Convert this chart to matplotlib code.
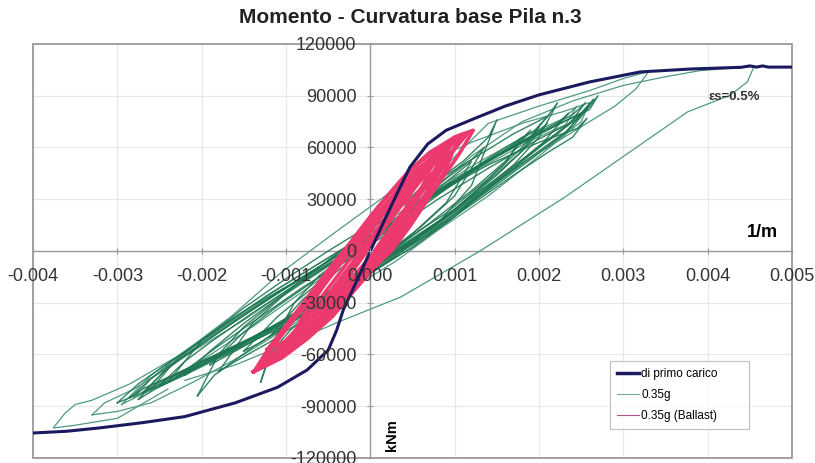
import numpy as np
import matplotlib.pyplot as plt
from matplotlib.lines import Line2D
from matplotlib.patches import Rectangle

plt.rcParams['font.family'] = ['Liberation Sans', 'DejaVu Sans']

# curvature in 1e-3 1/m, moment in 1e3 kNm
K = 1e-3
M = 1e3

# curva di primo carico
pc_k = [-4.0, -3.6, -3.2, -2.7, -2.2, -1.6, -1.1, -0.75, -0.5, -0.4, -0.32, -0.2, 0.0,
        0.15, 0.32, 0.47, 0.68, 0.9, 1.22, 1.6, 2.0, 2.6, 3.2, 3.8, 4.4, 4.5, 4.58, 4.65, 4.72, 5.0]
pc_m = [-105.5, -104.5, -102.5, -99.5, -96.0, -88.0, -79.0, -69.0, -57.5, -46.0, -34.0, -21.5, 0.0,
        16.0, 33.6, 48.7, 62.0, 70.0, 76.5, 84.0, 90.5, 98.0, 103.8, 105.5, 106.5, 107.3, 106.6, 107.3, 106.6, 106.6]

# 0.35g - cicli
g1_k = [-2.85, -2.7, -2.3, -1.8, -1.2, -0.6, 0.0, 0.5, 1.0, 1.5, 2.0, 2.4, 2.7, 2.6, 2.2, 1.6, 1.0, 0.4, -0.2, -0.7, -1.2, -1.8, -2.3, -2.6, -2.85]
g1_m = [-85, -80, -71, -60, -46, -29, -12, 2, 20, 40, 58, 72, 90, 82, 73, 58, 42, 22, 5, -10, -25, -45, -62, -74, -85]

g2_k = [-2.6, -2.4, -2.0, -1.5, -1.0, -0.4, 0.2, 0.7, 1.2, 1.7, 2.1, 2.4, 2.57, 2.45, 2.0, 1.4, 0.8, 0.2, -0.4, -0.9, -1.4, -1.9, -2.3, -2.6]
g2_m = [-80, -74, -64, -53, -41, -22, -4, 10, 27, 44, 57, 66, 77, 71, 63, 50, 34, 14, -3, -18, -32, -48, -63, -80]

g3_k = [-2.4, -2.2, -1.8, -1.3, -0.8, -0.3, 0.3, 0.8, 1.3, 1.7, 2.0, 2.22, 2.1, 1.7, 1.2, 0.6, 0.0, -0.5, -1.0, -1.5, -2.0, -2.4]
g3_m = [-76, -70, -61, -49, -35, -19, 0, 16, 34, 50, 66, 86, 78, 68, 53, 35, 15, 0, -16, -33, -52, -76]

g4_k = [-1.8, -1.6, -1.2, -0.7, -0.2, 0.3, 0.8, 1.2, 1.5, 1.4, 1.1, 0.6, 0.1, -0.4, -0.9, -1.4, -1.8]
g4_m = [-70, -64, -53, -37, -20, -3, 16, 38, 76, 66, 52, 34, 16, -2, -20, -42, -70]

g5_k = [-2.05, -1.85, -1.4, -0.9, -0.4, 0.1, 0.6, 1.1, 1.5, 1.8, 2.0, 1.9, 1.5, 1.0, 0.4, -0.1, -0.6, -1.1, -1.5, -1.8, -2.05]
g5_m = [-84, -72, -56, -40, -24, -8, 9, 28, 45, 58, 72, 66, 55, 40, 20, 4, -12, -28, -44, -60, -84]

g6_k = [-2.95, -2.75, -2.3, -1.7, -1.1, -0.5, 0.1, 0.6, 1.1, 1.6, 2.0, 2.3, 2.45, 2.3, 1.9, 1.3, 0.7, 0.1, -0.5, -1.0, -1.6, -2.2, -2.6, -2.95]
g6_m = [-89, -84, -74, -60, -45, -27, -8, 7, 25, 44, 60, 72, 84, 77, 68, 52, 34, 14, -4, -19, -38, -58, -72, -89]

g7_k = [-1.3, -1.2, -0.95, -0.6, -0.1, 0.4, 0.9, 1.3, 1.6, 1.8, 1.65, 1.3, 0.8, 0.3, -0.2, -0.6, -0.9, -1.1, -1.3]
g7_m = [-76, -60, -46, -31, -14, 2, 20, 37, 51, 66, 60, 50, 34, 16, 0, -14, -30, -48, -76]

g8_k = [-3.3, -3.0, -2.6, -2.1, -1.5, -0.9, -0.3, 0.3, 0.9, 1.4, 1.9, 2.3, 2.5, 2.35, 1.9, 1.3, 0.7, 0.1, -0.5, -1.1, -1.7, -2.3, -2.8, -3.15, -3.3]
g8_m = [-95, -93, -88, -76, -60, -42, -22, -4, 16, 36, 54, 67, 80, 74, 64, 48, 30, 12, -6, -24, -44, -64, -80, -88, -95]

g9_k = [-2.4, -3.0, -3.5, -3.76, -3.62, -3.5, -3.3, -2.85, -2.25, -1.65, -1.07, -0.44, 0.15, 0.35, 0.7, 1.2, 1.8, 2.3, 2.6, 2.5, 2.0, 1.4, 0.8, 0.3, -0.3, -0.9]
g9_m = [-80, -97, -101, -102.6, -94, -89, -86.5, -77, -60, -38, -13, 10, 31, 38, 52, 63, 74, 81, 86, 75, 55, 32, 12, -6, -24, -40]

g10_k = [-2.8, -2.6, -2.1, -1.5, -0.9, -0.3, 0.3, 0.8, 1.4, 2.0, 2.6, 3.0, 3.3, 3.15, 2.9, 2.5, 2.0, 1.4, 0.8, 0.2, -0.4, -1.0, -1.6, -2.2, -2.8]
g10_m = [-85, -74, -58, -40, -20, 2, 24, 45, 74, 84, 93, 100, 104, 94, 84, 72, 57, 38, 17, -3, -21, -39, -57, -72, -85]

g11_k = [-2.2, -1.4, -0.7, 0.0, 0.6, 1.2, 1.8, 2.4, 3.0, 3.5, 3.9, 4.3, 4.55, 4.47, 4.27, 3.76, 3.36, 2.3, 1.3, 0.36, -0.32, -0.9, -1.6, -2.2]
g11_m = [-70, -44, -20, 5, 30, 55, 75, 87, 96, 101, 104.5, 106, 107, 98, 90.4, 80.6, 67, 31, 0, -26.7, -40, -52, -66, -75]

g12_k = [-2.2, -2.0, -1.6, -1.1, -0.6, -0.1, 0.4, 0.9, 1.4, 1.8, 2.1, 1.95, 1.6, 1.1, 0.5, 0.0, -0.5, -1.0, -1.5, -1.9, -2.2]
g12_m = [-72, -66, -56, -42, -27, -10, 6, 22, 42, 60, 78, 70, 60, 44, 24, 8, -8, -24, -42, -58, -72]

g13_k = [-2.7, -2.5, -2.0, -1.4, -0.8, -0.2, 0.4, 0.9, 1.4, 1.9, 2.3, 2.65, 2.5, 2.1, 1.5, 0.9, 0.3, -0.3, -0.8, -1.4, -2.0, -2.4, -2.7]
g13_m = [-82, -76, -64, -50, -34, -16, 2, 18, 35, 53, 68, 88, 80, 70, 55, 38, 18, 0, -15, -34, -54, -68, -82]

g14_k = [-1.2, -1.0, -0.7, -0.3, 0.1, 0.5, 0.9, 1.2, 1.05, 0.8, 0.4, 0.0, -0.4, -0.8, -1.2]
g14_m = [-50, -44, -34, -20, -6, 10, 28, 52, 46, 36, 20, 4, -12, -28, -50]

g15_k = [-2.5, -2.3, -1.9, -1.4, -0.9, -0.4, 0.1, 0.6, 1.1, 1.6, 2.0, 2.35, 2.2, 1.8, 1.3, 0.7, 0.1, -0.4, -0.9, -1.4, -1.9, -2.2, -2.5]
g15_m = [-78, -72, -62, -50, -37, -22, -6, 9, 26, 44, 60, 80, 73, 63, 49, 31, 11, -5, -20, -36, -53, -64, -78]

g16_k = [-2.3, -2.1, -1.7, -1.2, -0.7, -0.2, 0.3, 0.8, 1.3, 1.8, 2.2, 2.6, 2.45, 2.0, 1.4, 0.8, 0.2, -0.3, -0.8, -1.3, -1.8, -2.3]
g16_m = [-73, -68, -58, -46, -32, -15, 1, 17, 35, 53, 67, 84, 76, 65, 48, 30, 10, -6, -21, -38, -55, -73]

g17_k = [-1.9, -1.6, -1.2, -0.8, -0.3, 0.2, 0.7, 1.2, 1.6, 1.9, 1.75, 1.4, 0.9, 0.4, -0.1, -0.6, -1.1, -1.5, -1.9]
g17_m = [-66, -58, -47, -35, -18, -2, 16, 35, 52, 70, 63, 53, 36, 18, 2, -15, -32, -47, -66]

g18_k = [-3.0, -2.8, -2.4, -1.9, -1.3, -0.7, -0.1, 0.5, 1.0, 1.5, 1.8, 2.1, 1.95, 1.6, 1.1, 0.5, -0.1, -0.7, -1.3, -1.9, -2.4, -2.75, -3.0]
g18_m = [-88, -84, -76, -63, -48, -31, -12, 6, 24, 44, 58, 74, 68, 58, 43, 24, 4, -13, -30, -49, -65, -77, -88]

g19_k = [-2.75, -2.55, -2.1, -1.6, -1.0, -0.45, 0.1, 0.6, 1.1, 1.6, 2.0, 2.35, 2.55, 2.4, 2.0, 1.5, 0.9, 0.3, -0.3, -0.8, -1.3, -1.9, -2.4, -2.75]
g19_m = [-86, -80, -69, -57, -43, -27, -9, 7, 25, 45, 61, 73, 86, 79, 69, 55, 38, 18, 0, -15, -31, -50, -67, -86]

g20_k = [-1.5, -1.3, -1.0, -0.6, -0.2, 0.2, 0.6, 1.0, 1.35, 1.2, 0.9, 0.5, 0.1, -0.3, -0.7, -1.1, -1.5]
g20_m = [-58, -53, -43, -30, -15, -1, 14, 32, 60, 53, 42, 26, 10, -6, -22, -38, -58]

# 0.35g (Ballast) - cicli
pa_k = [-1.38, -1.05, -0.75, -0.45, -0.21, 0.03, 0.25, 0.45, 0.65, 0.85, 1.05, 1.22, 1.0, 0.7, 0.45, 0.22, 0.0, -0.22, -0.45, -0.7, -0.95, -1.2, -1.38]
pa_m = [-70, -62, -51, -38, -24, -10, 0, 13, 28, 42, 56, 70, 66, 57, 46, 33, 20, 6, -8, -24, -40, -56, -70]

pb_k = [-1.3, -1.0, -0.7, -0.45, -0.2, 0.05, 0.3, 0.5, 0.72, 0.92, 1.1, 0.92, 0.65, 0.4, 0.15, -0.1, -0.35, -0.6, -0.85, -1.1, -1.3]
pb_m = [-66, -57, -45, -33, -18, -5, 8, 22, 38, 53, 68, 63, 50, 36, 21, 5, -12, -28, -44, -57, -66]

pc2_k = [-1.2, -0.9, -0.62, -0.38, -0.12, 0.12, 0.35, 0.58, 0.8, 1.0, 0.85, 0.6, 0.35, 0.1, -0.15, -0.4, -0.65, -0.92, -1.2]
pc2_m = [-62, -52, -40, -27, -12, 2, 17, 32, 48, 66, 60, 44, 28, 12, -4, -20, -35, -50, -62]

pd_k = [-1.1, -0.8, -0.5, -0.25, 0.02, 0.25, 0.5, 0.75, 0.95, 0.8, 0.55, 0.3, 0.05, -0.2, -0.45, -0.72, -1.1]
pd_m = [-60, -48, -33, -18, -2, 14, 30, 46, 63, 56, 40, 23, 6, -11, -27, -42, -60]

pe_k = [-1.0, -0.7, -0.45, -0.2, 0.05, 0.28, 0.5, 0.7, 0.9, 0.72, 0.45, 0.2, -0.05, -0.3, -0.55, -0.8, -1.0]
pe_m = [-57, -47, -36, -22, -8, 5, 19, 35, 60, 52, 40, 26, 11, -4, -20, -38, -57]

pf_k = [-0.75, -0.45, -0.2, 0.08, 0.32, 0.55, 0.75, 0.55, 0.3, 0.05, -0.2, -0.45, -0.75]
pf_m = [-46, -33, -18, -3, 12, 30, 52, 42, 26, 10, -6, -22, -46]

pg_k = [-1.39, -1.1, -0.8, -0.55, -0.3, -0.05, 0.2, 0.45, 0.7, 0.93, 1.15, 1.0, 0.78, 0.55, 0.3, 0.05, -0.2, -0.45, -0.72, -1.0, -1.39]
pg_m = [-70, -62, -50, -38, -24, -8, 8, 24, 40, 55, 68, 64, 52, 38, 22, 6, -10, -26, -42, -56, -70]

ph_k = [-1.22, -0.9, -0.6, -0.35, -0.1, 0.15, 0.38, 0.6, 0.8, 0.98, 0.82, 0.55, 0.3, 0.05, -0.2, -0.45, -0.7, -0.95, -1.22]
ph_m = [-57, -50, -40, -30, -16, -2, 10, 26, 44, 64, 58, 47, 34, 20, 4, -12, -28, -42, -57]

pi_k = [-0.5, -0.25, 0.0, 0.22, 0.4, 0.5, 0.35, 0.1, -0.12, -0.32, -0.5]
pi_m = [-35, -22, -8, 6, 20, 40, 30, 14, 0, -16, -35]

pj_k = [-1.3, -1.0, -0.7, -0.42, -0.18, 0.08, 0.32, 0.52, 0.72, 0.9, 1.05, 0.88, 0.6, 0.35, 0.1, -0.12, -0.35, -0.6, -0.85, -1.1, -1.3]
pj_m = [-65, -58, -48, -36, -22, -8, 5, 18, 33, 48, 67, 62, 52, 40, 26, 12, -3, -20, -36, -52, -65]

# cicli più ampi (tratto più chiaro) e cicli interni (più scuro)
outer_loops = [(g8_k, g8_m), (g9_k, g9_m), (g10_k, g10_m), (g11_k, g11_m), (g6_k, g6_m)]
inner_loops = [(g1_k, g1_m), (g2_k, g2_m), (g3_k, g3_m), (g4_k, g4_m), (g5_k, g5_m),
               (g7_k, g7_m), (g12_k, g12_m), (g13_k, g13_m), (g14_k, g14_m),
               (g15_k, g15_m), (g16_k, g16_m), (g17_k, g17_m), (g18_k, g18_m),
               (g19_k, g19_m), (g20_k, g20_m)]
pink_loops = [(pa_k, pa_m), (pb_k, pb_m), (pc2_k, pc2_m), (pd_k, pd_m), (pe_k, pe_m),
              (pf_k, pf_m), (pg_k, pg_m), (ph_k, ph_m), (pi_k, pi_m), (pj_k, pj_m)]

col_primo = '#1c1a5e'
col_g_out = '#4f9a84'
col_g = '#1d7752'
col_b = '#ec3a6e'

fig = plt.figure(figsize=(8.15, 4.63), dpi=100)
ax = fig.add_axes([0.0405, 0.0108, 0.9313, 0.8942])

xt = np.arange(-0.004, 0.0051, 0.001)
yt = np.arange(-120000, 120001, 30000)

# griglia sotto le curve, etichette degli assi sopra
for x in xt:
    ax.axvline(x, color='#e8e8e8', lw=0.8, zorder=0.1)
for y in yt:
    ax.axhline(y, color='#e8e8e8', lw=0.8, zorder=0.1)

for kk, mm in outer_loops:
    ax.plot(np.array(kk) * K, np.array(mm) * M, color=col_g_out, lw=0.9, zorder=1)
for kk, mm in inner_loops:
    ax.plot(np.array(kk) * K, np.array(mm) * M, color=col_g, lw=1.0, alpha=0.9, zorder=1)
for kk, mm in pink_loops:
    ax.plot(np.array(kk) * K, np.array(mm) * M, color=col_b, lw=2.6, zorder=1.2)
ax.plot(np.array(pc_k) * K, np.array(pc_m) * M, color=col_primo, lw=2.2, zorder=1.5)

ax.set_xlim(-0.004, 0.005)
ax.set_ylim(-120000, 120000)
ax.set_xticks(xt)
ax.set_yticks(yt)
ax.xaxis.set_major_formatter(plt.FuncFormatter(lambda v, p: f'{v:.3f}'))
ax.yaxis.set_major_formatter(plt.FuncFormatter(lambda v, p: f'{v:.0f}'))

for s in ['top', 'right']:
    ax.spines[s].set_visible(False)
ax.spines['left'].set_position(('data', 0))
ax.spines['bottom'].set_position(('data', 0))
for s in ['left', 'bottom']:
    ax.spines[s].set_color('#9a9a9a')
    ax.spines[s].set_linewidth(1.0)
    ax.spines[s].set_zorder(0.2)
ax.add_patch(Rectangle((0, 0), 1, 1, transform=ax.transAxes, fill=False,
                       ec='#9a9a9a', lw=1.3, clip_on=False))

ax.tick_params(axis='both', direction='inout', length=4, color='#9a9a9a',
               labelsize=13, labelcolor='#333333')
ax.tick_params(axis='x', pad=10)
ax.tick_params(axis='y', pad=8)

fig.text(0.503, 0.963, 'Momento - Curvatura base Pila n.3', ha='center', va='center',
         fontsize=15, fontweight='bold', color='#222222')
ax.text(0.00465, 11000, '1/m', ha='center', va='center', fontsize=13, fontweight='bold')
ax.text(0.00026, -107000, 'kNm', ha='center', va='center', rotation=90,
        fontsize=10.5, fontweight='bold')
ax.text(0.00432, 89000, 'εs=0.5%', ha='center', va='center', fontsize=9.5,
        fontweight='bold', color='#333333')

handles = [Line2D([], [], color=col_primo, lw=2.5),
           Line2D([], [], color='#7aa898', lw=0.8),
           Line2D([], [], color='#b0508a', lw=0.8)]
leg = ax.legend(handles, ['di primo carico', '0.35g', '0.35g (Ballast)'],
                loc='lower left', bbox_to_anchor=(0.760, 0.070, 0.183, 0.162),
                mode='expand', borderaxespad=0, fontsize=8.5,
                frameon=True, fancybox=False, handlelength=1.9, handletextpad=0.15,
                labelspacing=0.75, borderpad=0.6)
leg.get_frame().set_edgecolor('#b0b0b0')
leg.get_frame().set_linewidth(0.8)

fig.savefig('out.png', dpi=100)
